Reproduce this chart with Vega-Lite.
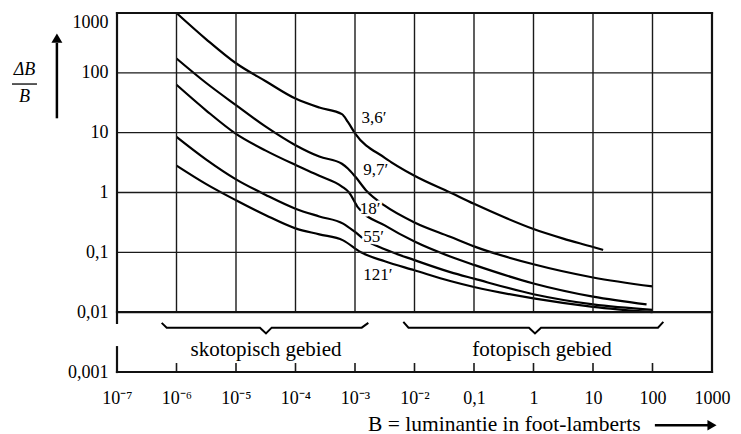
{
  "$schema": "https://vega.github.io/schema/vega-lite/v6.json",
  "width": 595,
  "height": 359,
  "autosize": {"type": "none"},
  "padding": {"left": 117, "top": 13, "right": 29, "bottom": 62},
  "background": "white",
  "config": {"view": {"stroke": null}, "font": "Liberation Serif"},
  "datasets": {
    "curves": [
      {"series": "3,6′", "x": 1e-6, "y": 1000},
      {"series": "3,6′", "x": 3.162e-6, "y": 363.1},
      {"series": "3,6′", "x": 1e-5, "y": 144.5},
      {"series": "3,6′", "x": 3.162e-5, "y": 72.44},
      {"series": "3,6′", "x": 1e-4, "y": 37.15},
      {"series": "3,6′", "x": 2.512e-4, "y": 26.30},
      {"series": "3,6′", "x": 6.026e-4, "y": 20.42},
      {"series": "3,6′", "x": 7.586e-4, "y": 15.14},
      {"series": "3,6′", "x": 1e-3, "y": 9.772},
      {"series": "3,6′", "x": 3.162e-3, "y": 3.802},
      {"series": "3,6′", "x": 0.01, "y": 1.905},
      {"series": "3,6′", "x": 0.03981, "y": 1.0},
      {"series": "3,6′", "x": 0.1, "y": 0.6457},
      {"series": "3,6′", "x": 0.3162, "y": 0.389},
      {"series": "3,6′", "x": 1, "y": 0.2455},
      {"series": "3,6′", "x": 3.162, "y": 0.1698},
      {"series": "3,6′", "x": 10, "y": 0.1230},
      {"series": "3,6′", "x": 14.79, "y": 0.1096},
      {"series": "9,7′", "x": 1e-6, "y": 173.8},
      {"series": "9,7′", "x": 3.162e-6, "y": 67.61},
      {"series": "9,7′", "x": 1e-5, "y": 28.84},
      {"series": "9,7′", "x": 3.162e-5, "y": 12.59},
      {"series": "9,7′", "x": 1e-4, "y": 6.166},
      {"series": "9,7′", "x": 2.512e-4, "y": 3.981},
      {"series": "9,7′", "x": 6.026e-4, "y": 3.020},
      {"series": "9,7′", "x": 7.586e-4, "y": 2.512},
      {"series": "9,7′", "x": 1e-3, "y": 1.862},
      {"series": "9,7′", "x": 1.585e-3, "y": 1.047},
      {"series": "9,7′", "x": 3.162e-3, "y": 0.6026},
      {"series": "9,7′", "x": 0.01, "y": 0.3162},
      {"series": "9,7′", "x": 0.03981, "y": 0.1820},
      {"series": "9,7′", "x": 0.1, "y": 0.1259},
      {"series": "9,7′", "x": 1, "y": 0.0631},
      {"series": "9,7′", "x": 10, "y": 0.03802},
      {"series": "9,7′", "x": 100, "y": 0.02692},
      {"series": "18′", "x": 1e-6, "y": 63.10},
      {"series": "18′", "x": 3.162e-6, "y": 23.44},
      {"series": "18′", "x": 1e-5, "y": 9.550},
      {"series": "18′", "x": 3.162e-5, "y": 5.012},
      {"series": "18′", "x": 1e-4, "y": 2.884},
      {"series": "18′", "x": 2.512e-4, "y": 1.905},
      {"series": "18′", "x": 6.026e-4, "y": 1.259},
      {"series": "18′", "x": 7.943e-4, "y": 1.0},
      {"series": "18′", "x": 1.122e-3, "y": 0.5623},
      {"series": "18′", "x": 3.162e-3, "y": 0.2818},
      {"series": "18′", "x": 0.01, "y": 0.1514},
      {"series": "18′", "x": 0.03981, "y": 0.08511},
      {"series": "18′", "x": 0.1, "y": 0.06166},
      {"series": "18′", "x": 1, "y": 0.0302},
      {"series": "18′", "x": 10, "y": 0.01820},
      {"series": "18′", "x": 79.43, "y": 0.01349},
      {"series": "55′", "x": 1e-6, "y": 8.511},
      {"series": "55′", "x": 3.162e-6, "y": 3.548},
      {"series": "55′", "x": 1e-5, "y": 1.660},
      {"series": "55′", "x": 3.162e-5, "y": 0.9120},
      {"series": "55′", "x": 1e-4, "y": 0.5370},
      {"series": "55′", "x": 2.512e-4, "y": 0.3981},
      {"series": "55′", "x": 6.310e-4, "y": 0.3020},
      {"series": "55′", "x": 1e-3, "y": 0.2188},
      {"series": "55′", "x": 1.413e-3, "y": 0.1660},
      {"series": "55′", "x": 3.162e-3, "y": 0.1122},
      {"series": "55′", "x": 0.01, "y": 0.07413},
      {"series": "55′", "x": 0.03981, "y": 0.04677},
      {"series": "55′", "x": 0.1, "y": 0.03631},
      {"series": "55′", "x": 1, "y": 0.01995},
      {"series": "55′", "x": 10, "y": 0.01349},
      {"series": "55′", "x": 100, "y": 0.01096},
      {"series": "121′", "x": 1e-6, "y": 2.818},
      {"series": "121′", "x": 3.162e-6, "y": 1.380},
      {"series": "121′", "x": 1e-5, "y": 0.7413},
      {"series": "121′", "x": 3.162e-5, "y": 0.4169},
      {"series": "121′", "x": 1e-4, "y": 0.2512},
      {"series": "121′", "x": 2.512e-4, "y": 0.1995},
      {"series": "121′", "x": 6.310e-4, "y": 0.1585},
      {"series": "121′", "x": 1.259e-3, "y": 0.1},
      {"series": "121′", "x": 3.162e-3, "y": 0.07079},
      {"series": "121′", "x": 0.01, "y": 0.05012},
      {"series": "121′", "x": 0.03981, "y": 0.03311},
      {"series": "121′", "x": 0.1, "y": 0.02630},
      {"series": "121′", "x": 1, "y": 0.01698},
      {"series": "121′", "x": 10, "y": 0.01230},
      {"series": "121′", "x": 100, "y": 0.01}
    ],
    "labels": [
      {"text": "3,6′", "x": 1.288e-3, "y": 17.38},
      {"text": "9,7′", "x": 1.380e-3, "y": 2.371},
      {"text": "18′", "x": 1.202e-3, "y": 0.537},
      {"text": "55′", "x": 1.380e-3, "y": 0.182},
      {"text": "121′", "x": 1.380e-3, "y": 0.0417}
    ],
    "braces": [
      {"b": "s", "x": 5.636e-7, "y": 6.622e-3},
      {"b": "s", "x": 6.839e-7, "y": 5.508e-3},
      {"b": "s", "x": 2.529e-5, "y": 5.508e-3},
      {"b": "s", "x": 3.192e-5, "y": 4.406e-3},
      {"b": "s", "x": 3.981e-5, "y": 5.508e-3},
      {"b": "s", "x": 1.297e-3, "y": 5.508e-3},
      {"b": "s", "x": 1.675e-3, "y": 6.622e-3},
      {"b": "f", "x": 6.486e-3, "y": 6.887e-3},
      {"b": "f", "x": 7.925e-3, "y": 5.508e-3},
      {"b": "f", "x": 0.8395, "y": 5.508e-3},
      {"b": "f", "x": 1.059, "y": 4.406e-3},
      {"b": "f", "x": 1.337, "y": 5.508e-3},
      {"b": "f", "x": 123.6, "y": 5.508e-3},
      {"b": "f", "x": 152.1, "y": 6.887e-3}
    ],
    "regions": [
      {"text": "skotopisch gebied", "x": 3.192e-5, "y": 2.317e-3},
      {"text": "fotopisch gebied", "x": 1.390, "y": 2.317e-3}
    ],
    "hgrid": [{"y": 0.1}, {"y": 1}, {"y": 10}, {"y": 100}],
    "frameh": [{"y": 0.001}, {"y": 0.01}, {"y": 1000}],
    "vgrid": [{"x": 1e-6}, {"x": 1e-5}, {"x": 1e-4}, {"x": 1e-3}, {"x": 1e-2}, {"x": 0.1}, {"x": 1}, {"x": 10}, {"x": 100}]
  },
  "layer": [
    {
      "data": {"name": "curves"},
      "mark": {"type": "line", "color": "#000", "strokeWidth": 2.2, "interpolate": "monotone"},
      "encoding": {
        "x": {
          "field": "x", "type": "quantitative",
          "scale": {"type": "log", "domain": [1e-7, 1000], "nice": false},
          "axis": {
            "values": [1e-7, 1e-6, 1e-5, 1e-4, 1e-3, 1e-2, 0.1, 1, 10, 100, 1000],
            "labelExpr": "datum.value >= 1 ? format(datum.value, 'd') : datum.value > 0.05 ? '0,1' : '10⁻' + ['', '¹', '²', '³', '⁴', '⁵', '⁶', '⁷'][round(-log(datum.value) / LN10)]",
            "grid": false, "ticks": false, "domain": false,
            "labelPadding": 17, "labelFontSize": 18, "labelFont": "Liberation Serif", "labelColor": "#000",
            "labelFlush": false, "labelOverlap": false,
            "title": "B = luminantie in foot-lamberts",
            "titleFont": "Liberation Serif", "titleFontSize": 21.5, "titleFontWeight": "normal", "titleColor": "#000",
            "titleX": 523, "titleY": 58, "titleAlign": "right", "titleBaseline": "alphabetic"
          }
        },
        "y": {
          "field": "y", "type": "quantitative",
          "scale": {"type": "log", "domain": [0.001, 1000], "nice": false},
          "axis": {
            "values": [0.001, 0.01, 0.1, 1, 10, 100, 1000],
            "labelExpr": "datum.value < 0.005 ? '0,001' : datum.value < 0.05 ? '0,01' : datum.value < 0.5 ? '0,1' : format(datum.value, 'd')",
            "grid": false, "ticks": false, "domain": false,
            "labelPadding": 9, "labelFontSize": 18, "labelFont": "Liberation Serif", "labelColor": "#000",
            "labelFlush": false, "labelOverlap": false,
            "labelBaseline": {"condition": {"test": "datum.value > 500", "value": "top"}, "value": "middle"},
            "title": ["ΔB", "B"],
            "titleAngle": 0, "titleX": -93, "titleY": 47, "titleAlign": "center", "titleBaseline": "top",
            "titleFont": "Liberation Serif", "titleFontSize": 18, "titleFontStyle": "italic", "titleFontWeight": "normal",
            "titleColor": "#000", "titleLineHeight": 27
          }
        },
        "detail": {"field": "series"}
      }
    },
    {
      "data": {"name": "hgrid"},
      "mark": {"type": "rule", "color": "#1a1a1a", "strokeWidth": 1.4},
      "encoding": {
        "y": {"field": "y", "type": "quantitative"}
      }
    },
    {
      "data": {"name": "vgrid"},
      "mark": {"type": "rule", "color": "#1a1a1a", "strokeWidth": 1.4},
      "encoding": {
        "x": {"field": "x", "type": "quantitative"},
        "y": {"datum": 0.01, "type": "quantitative"},
        "y2": {"datum": 1000}
      }
    },
    {
      "data": {"name": "vgrid"},
      "mark": {"type": "rule", "color": "#1a1a1a", "strokeWidth": 1.6},
      "encoding": {
        "x": {"field": "x", "type": "quantitative"},
        "y": {"datum": 0.001, "type": "quantitative"},
        "y2": {"datum": 0.001413}
      }
    },
    {
      "data": {"name": "frameh"},
      "mark": {"type": "rule", "color": "#111", "strokeWidth": 2.2, "strokeCap": "square"},
      "encoding": {
        "y": {"field": "y", "type": "quantitative"}
      }
    },
    {
      "data": {"values": [{"k": 1}]},
      "mark": {"type": "rule", "color": "#111", "strokeWidth": 2.2, "strokeCap": "square"},
      "encoding": {
        "x": {"datum": 1000, "type": "quantitative"}
      }
    },
    {
      "data": {"values": [{"k": 1}]},
      "mark": {"type": "rule", "color": "#111", "strokeWidth": 2.2, "strokeCap": "square"},
      "encoding": {
        "x": {"datum": 1e-7, "type": "quantitative"},
        "y": {"datum": 0.006607, "type": "quantitative"},
        "y2": {"datum": 1000}
      }
    },
    {
      "data": {"values": [{"k": 1}]},
      "mark": {"type": "rule", "color": "#111", "strokeWidth": 2.2, "strokeCap": "square"},
      "encoding": {
        "x": {"datum": 1e-7, "type": "quantitative"},
        "y": {"datum": 0.001, "type": "quantitative"},
        "y2": {"datum": 0.0026}
      }
    },
    {
      "data": {"name": "labels"},
      "mark": {"type": "text", "align": "left", "baseline": "middle", "fontSize": 17, "font": "Liberation Serif", "fill": "white", "stroke": "white", "strokeWidth": 5, "strokeJoin": "round"},
      "encoding": {
        "x": {"field": "x", "type": "quantitative"},
        "y": {"field": "y", "type": "quantitative"},
        "text": {"field": "text"}
      }
    },
    {
      "data": {"name": "labels"},
      "mark": {"type": "text", "align": "left", "baseline": "middle", "fontSize": 17, "font": "Liberation Serif", "color": "#000"},
      "encoding": {
        "x": {"field": "x", "type": "quantitative"},
        "y": {"field": "y", "type": "quantitative"},
        "text": {"field": "text"}
      }
    },
    {
      "data": {"name": "braces"},
      "mark": {"type": "line", "color": "#000", "strokeWidth": 2},
      "encoding": {
        "x": {"field": "x", "type": "quantitative"},
        "y": {"field": "y", "type": "quantitative"},
        "detail": {"field": "b"}
      }
    },
    {
      "data": {"name": "regions"},
      "mark": {"type": "text", "align": "center", "baseline": "middle", "fontSize": 21, "font": "Liberation Serif", "color": "#000"},
      "encoding": {
        "x": {"field": "x", "type": "quantitative"},
        "y": {"field": "y", "type": "quantitative"},
        "text": {"field": "text"}
      }
    },
    {
      "data": {"values": [{"k": 1}]},
      "mark": {"type": "rule", "color": "#000", "strokeWidth": 1.3},
      "encoding": {
        "x": {"datum": 1.718e-9, "type": "quantitative"},
        "x2": {"datum": 4.519e-9},
        "y": {"datum": 65.0, "type": "quantitative"}
      }
    },
    {
      "data": {"values": [{"k": 1}]},
      "mark": {"type": "rule", "color": "#000", "strokeWidth": 2.5},
      "encoding": {
        "x": {"datum": 109.6, "type": "quantitative"},
        "x2": {"datum": 933},
        "y": {"datum": 0.0001288, "type": "quantitative"}
      }
    },
    {
      "data": {"values": [{"k": 1}]},
      "mark": {"type": "point", "shape": "triangle-right", "filled": true, "color": "#000", "size": 110, "opacity": 1},
      "encoding": {
        "x": {"datum": 1000, "type": "quantitative"},
        "y": {"datum": 0.0001288, "type": "quantitative"}
      }
    },
    {
      "data": {"values": [{"k": 1}]},
      "mark": {"type": "rule", "color": "#000", "strokeWidth": 2.5},
      "encoding": {
        "x": {"datum": 9.772e-9, "type": "quantitative"},
        "y": {"datum": 17.38, "type": "quantitative"},
        "y2": {"datum": 316.2}
      }
    },
    {
      "data": {"values": [{"k": 1}]},
      "mark": {"type": "point", "shape": "triangle-up", "filled": true, "color": "#000", "size": 120, "opacity": 1},
      "encoding": {
        "x": {"datum": 9.772e-9, "type": "quantitative"},
        "y": {"datum": 380.2, "type": "quantitative"}
      }
    }
  ]
}
